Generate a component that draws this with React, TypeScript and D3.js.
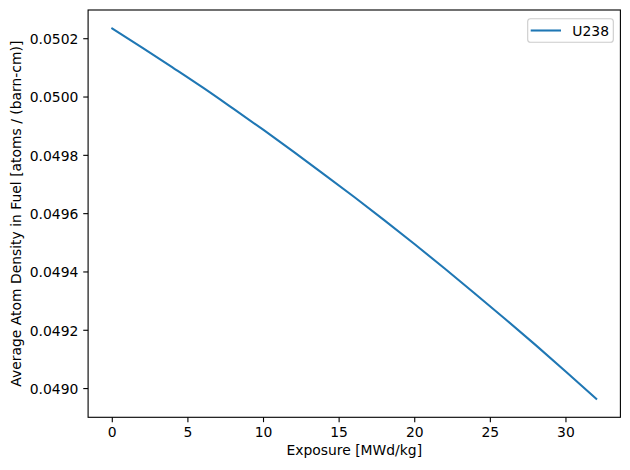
import React from "react";
import * as d3 from "d3";

const exposure: number[] = [0, 2, 4, 6, 8, 10, 12, 14, 16, 18, 20, 22, 24, 26, 28, 30, 32];
const u238: number[] = [
  0.050235, 0.050169, 0.050101, 0.050032, 0.04996, 0.049887, 0.049812, 0.049735,
  0.049657, 0.049577, 0.049495, 0.049411, 0.049325, 0.049238, 0.049149, 0.049058, 0.048965,
];
const xTicks: number[] = [0, 5, 10, 15, 20, 25, 30];
const yTicks: number[] = [0.049, 0.0492, 0.0494, 0.0496, 0.0498, 0.05, 0.0502];
const seriesName = "U238";
const xLabel = "Exposure [MWd/kg]";
const yLabel = "Average Atom Density in Fuel [atoms / (barn-cm)]";

const W = 630;
const H = 470;
const M = { left: 88.1, right: 620.4, top: 10, bottom: 417.3 };
const FONT = "'DejaVu Sans', sans-serif";
const FS = 13.9;

export default function App() {
  const xMin = d3.min(exposure)!;
  const xMax = d3.max(exposure)!;
  const yMin = d3.min(u238)!;
  const yMax = d3.max(u238)!;
  const xPad = (xMax - xMin) * 0.05;
  const yPad = (yMax - yMin) * 0.05;
  const x = d3.scaleLinear().domain([xMin - xPad, xMax + xPad]).range([M.left, M.right]);
  const y = d3.scaleLinear().domain([yMin - yPad, yMax + yPad]).range([M.bottom, M.top]);
  const line = d3
    .line<number>()
    .x((_, i) => x(exposure[i]))
    .y((d) => y(d))
    .curve(d3.curveMonotoneX);
  const tl = 4.86;
  const axisColor = "#000";

  const legX = 527.7;
  const legY = 18.7;
  const legW = 85.6;
  const legH = 23.6;

  return (
    <svg
      width={W}
      height={H}
      style={{ position: "fixed", left: 0, top: 0, background: "#fff" }}
      fontFamily={FONT}
    >
      <rect x={0} y={0} width={W} height={H} fill="#fff" />
      <path d={line(u238) || ""} fill="none" stroke="#1f77b4" strokeWidth={2.08} strokeLinecap="square" />
      <rect
        x={M.left}
        y={M.top}
        width={M.right - M.left}
        height={M.bottom - M.top}
        fill="none"
        stroke={axisColor}
        strokeWidth={1.11}
      />
      {xTicks.map((t) => (
        <g key={"x" + t}>
          <line x1={x(t)} x2={x(t)} y1={M.bottom} y2={M.bottom + tl} stroke={axisColor} strokeWidth={1.11} />
          <text x={x(t)} y={436.5} textAnchor="middle" fontSize={FS} fill="#000">
            {t}
          </text>
        </g>
      ))}
      {yTicks.map((t) => (
        <g key={"y" + t}>
          <line x1={M.left - tl} x2={M.left} y1={y(t)} y2={y(t)} stroke={axisColor} strokeWidth={1.11} />
          <text x={M.left - tl - 4.9} y={y(t)} dy={5.3} textAnchor="end" fontSize={FS} fill="#000">
            {t.toFixed(4)}
          </text>
        </g>
      ))}
      <text x={(M.left + M.right) / 2} y={455} textAnchor="middle" fontSize={FS} fill="#000">
        {xLabel}
      </text>
      <text
        transform={`translate(20.5, ${(M.top + M.bottom) / 2}) rotate(-90)`}
        textAnchor="middle"
        fontSize={FS}
        fill="#000"
      >
        {yLabel}
      </text>
      <rect
        x={legX}
        y={legY}
        width={legW}
        height={legH}
        rx={2.8}
        fill="#fff"
        fillOpacity={0.8}
        stroke="#cccccc"
        strokeWidth={1.11}
      />
      <line x1={530.7} x2={561} y1={legY + legH / 2} y2={legY + legH / 2} stroke="#1f77b4" strokeWidth={2.08} />
      <text x={572.3} y={legY + legH / 2 + 5.1} fontSize={FS} fill="#000">
        {seriesName}
      </text>
    </svg>
  );
}
